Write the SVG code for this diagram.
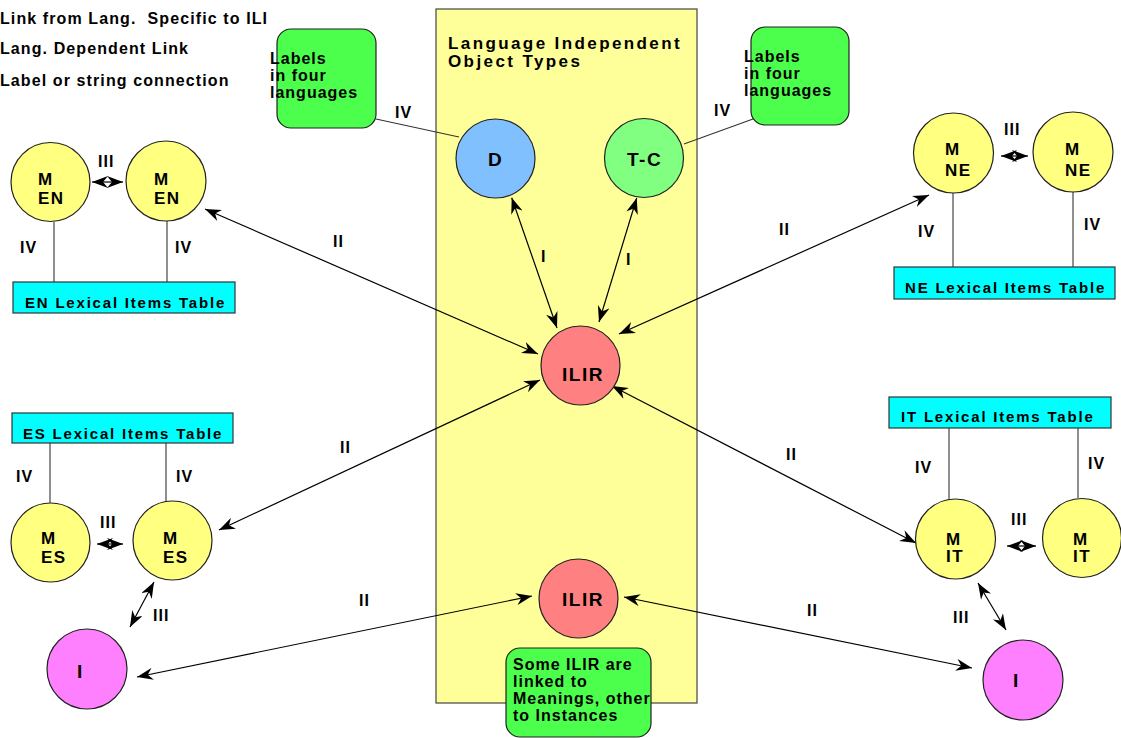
<svg xmlns="http://www.w3.org/2000/svg" width="1121" height="738" viewBox="0 0 1121 738">
<style>
text{font-family:"Liberation Sans",Arial,sans-serif;font-weight:bold;fill:#000}
.leg{font-size:16px;letter-spacing:1.1px}
.ttl{font-size:17px;letter-spacing:2.4px}
.lbl{font-size:16px;letter-spacing:1px}
.tbl{font-size:15px;letter-spacing:1.8px}
.gt{font-size:16px;letter-spacing:1px}
.node{font-size:19px;letter-spacing:1.5px}
.m{font-size:17px;letter-spacing:1.5px}
.circ{stroke:#222;stroke-width:1.2}
.yel{fill:#ffff80}
.tb{fill:#00ffff;stroke:#333;stroke-width:1.2}
.gb{fill:#4cff4c;stroke:#222;stroke-width:1.2}
.arr{stroke:#000;stroke-width:1.2;fill:none;marker-start:url(#ah);marker-end:url(#ah)}
.thin{stroke:#333;stroke-width:1.1;fill:none}
</style>
<defs>
<marker id="ah" viewBox="0 0 16 12" refX="16" refY="6" markerWidth="16" markerHeight="12" markerUnits="userSpaceOnUse" orient="auto-start-reverse">
<path d="M0,0 L16,6 L0,12 L5,6 z" fill="#000"/>
</marker>
</defs>
<rect width="1121" height="738" fill="#fff"/>
<g id="legend">
<text class="leg" x="0" y="24" xml:space="preserve">Link from Lang.  Specific to ILI</text>
<text class="leg" x="0" y="54">Lang. Dependent Link</text>
<text class="leg" x="0" y="86">Label or string connection</text>
</g>
<g id="ili-region">
<rect x="436" y="9" width="261" height="694" fill="#ffff99" stroke="#444" stroke-width="1.2"/>
<text class="ttl" x="448" y="49">Language Independent</text>
<text class="ttl" x="448" y="67">Object Types</text>
</g>
<g id="connectors">
<line class="thin" x1="376" y1="119" x2="459" y2="137"/>
<line class="thin" x1="684" y1="144" x2="753" y2="119"/>
<line class="arr" x1="511.7" y1="197.7" x2="557" y2="328"/>
<line class="arr" x1="636.7" y1="198" x2="599" y2="322"/>
<line class="arr" x1="205" y1="209" x2="538" y2="354"/>
<line class="arr" x1="219" y1="530" x2="540" y2="380"/>
<line class="arr" x1="929" y1="195" x2="619" y2="334"/>
<line class="arr" x1="916" y1="543" x2="612" y2="386"/>
<line class="arr" x1="137" y1="677" x2="532" y2="596"/>
<line class="arr" x1="624" y1="597" x2="972" y2="668"/>
<line class="arr" x1="154" y1="582" x2="130" y2="627"/>
<line class="arr" x1="978" y1="583" x2="1006" y2="630"/>
<line class="arr" x1="92" y1="182" x2="123" y2="182"/>
<line class="arr" x1="97" y1="544" x2="123" y2="544"/>
<line class="arr" x1="1001" y1="156" x2="1028" y2="156"/>
<line class="arr" x1="1007" y1="546" x2="1036" y2="546"/>
<line class="thin" x1="54" y1="222" x2="54" y2="282"/>
<line class="thin" x1="167" y1="221" x2="167" y2="282"/>
<line class="thin" x1="953" y1="193" x2="953" y2="267"/>
<line class="thin" x1="1073" y1="192" x2="1073" y2="267"/>
<line class="thin" x1="50" y1="443" x2="50" y2="503"/>
<line class="thin" x1="166" y1="443" x2="166" y2="501"/>
<line class="thin" x1="949" y1="428" x2="949" y2="499"/>
<line class="thin" x1="1078" y1="428" x2="1078" y2="498"/>
<text class="lbl" x="395" y="118">IV</text>
<text class="lbl" x="714" y="116">IV</text>
<text class="lbl" x="541" y="262">I</text>
<text class="lbl" x="626" y="265">I</text>
<text class="lbl" x="333" y="247">II</text>
<text class="lbl" x="340" y="453">II</text>
<text class="lbl" x="779" y="235">II</text>
<text class="lbl" x="786" y="460">II</text>
<text class="lbl" x="359" y="606">II</text>
<text class="lbl" x="807" y="616">II</text>
<text class="lbl" x="153" y="621">III</text>
<text class="lbl" x="953" y="623">III</text>
<text class="lbl" x="98" y="167">III</text>
<text class="lbl" x="100" y="528">III</text>
<text class="lbl" x="1004" y="135">III</text>
<text class="lbl" x="1011" y="525">III</text>
<text class="lbl" x="20" y="253">IV</text>
<text class="lbl" x="175" y="253">IV</text>
<text class="lbl" x="918" y="237">IV</text>
<text class="lbl" x="1084" y="230">IV</text>
<text class="lbl" x="16" y="482">IV</text>
<text class="lbl" x="176" y="482">IV</text>
<text class="lbl" x="915" y="473">IV</text>
<text class="lbl" x="1088" y="469">IV</text>
</g>
<g id="labels-left">
<rect class="gb" x="277" y="29" width="99" height="99" rx="14"/>
<text class="gt" x="270" y="64">Labels</text>
<text class="gt" x="270" y="81">in four</text>
<text class="gt" x="270" y="98">languages</text>
</g>
<g id="labels-right">
<rect class="gb" x="751" y="27" width="98" height="98" rx="14"/>
<text class="gt" x="744" y="62">Labels</text>
<text class="gt" x="744" y="79">in four</text>
<text class="gt" x="744" y="96">languages</text>
</g>
<g id="D">
<circle class="circ" cx="495.5" cy="158.5" r="39.5" fill="#80c0ff"/>
<text class="node" x="488" y="166">D</text>
</g>
<g id="T-C">
<circle class="circ" cx="644" cy="158" r="39.5" fill="#80ff80"/>
<text class="node" x="627" y="166">T-C</text>
</g>
<g id="ILIR-1">
<circle class="circ" cx="580.5" cy="365.5" r="39.5" fill="#ff8080"/>
<text class="node" x="562" y="381">ILIR</text>
</g>
<g id="ILIR-2">
<circle class="circ" cx="578.5" cy="598.5" r="39.5" fill="#ff8080"/>
<text class="node" x="562" y="606">ILIR</text>
</g>
<g id="note-ilir">
<rect class="gb" x="506" y="648" width="145" height="89" rx="14"/>
<text class="gt" x="513" y="670">Some ILIR are</text>
<text class="gt" x="513" y="687">linked to</text>
<text class="gt" x="513" y="704">Meanings, other</text>
<text class="gt" x="513" y="721">to Instances</text>
</g>
<g id="M-EN-1">
<circle class="circ yel" cx="50.5" cy="182" r="39.5"/>
<text class="m" x="38" y="185">M</text>
<text class="m" x="38" y="204">EN</text>
</g>
<g id="M-EN-2">
<circle class="circ yel" cx="166" cy="181" r="40"/>
<text class="m" x="154" y="185">M</text>
<text class="m" x="154" y="204">EN</text>
</g>
<g id="EN-table">
<rect class="tb" x="13" y="282" width="222" height="31"/>
<text class="tbl" x="25" y="308">EN Lexical Items Table</text>
</g>
<g id="M-NE-1">
<circle class="circ yel" cx="953.5" cy="153" r="40"/>
<text class="m" x="945" y="155">M</text>
<text class="m" x="945" y="176">NE</text>
</g>
<g id="M-NE-2">
<circle class="circ yel" cx="1073" cy="152" r="40"/>
<text class="m" x="1065" y="155">M</text>
<text class="m" x="1065" y="176">NE</text>
</g>
<g id="NE-table">
<rect class="tb" x="894" y="267" width="221" height="32"/>
<text class="tbl" x="905" y="293">NE Lexical Items Table</text>
</g>
<g id="ES-table">
<rect class="tb" x="12" y="413" width="221" height="30"/>
<text class="tbl" x="23" y="439">ES Lexical Items Table</text>
</g>
<g id="M-ES-1">
<circle class="circ yel" cx="50.5" cy="542.5" r="39.5"/>
<text class="m" x="41" y="544">M</text>
<text class="m" x="41" y="563">ES</text>
</g>
<g id="M-ES-2">
<circle class="circ yel" cx="172.5" cy="540.5" r="39.5"/>
<text class="m" x="163" y="544">M</text>
<text class="m" x="163" y="563">ES</text>
</g>
<g id="I-left">
<circle class="circ" cx="87" cy="669" r="40" fill="#ff80ff"/>
<text class="node" x="77" y="678">I</text>
</g>
<g id="IT-table">
<rect class="tb" x="889" y="397" width="222" height="31"/>
<text class="tbl" x="901" y="422">IT Lexical Items Table</text>
</g>
<g id="M-IT-1">
<circle class="circ yel" cx="955.5" cy="539" r="40"/>
<text class="m" x="946" y="545">M</text>
<text class="m" x="946" y="562">IT</text>
</g>
<g id="M-IT-2">
<circle class="circ yel" cx="1082" cy="538" r="39.5"/>
<text class="m" x="1073" y="545">M</text>
<text class="m" x="1073" y="562">IT</text>
</g>
<g id="I-right">
<circle class="circ" cx="1023" cy="680" r="40" fill="#ff80ff"/>
<text class="node" x="1013" y="687">I</text>
</g>
</svg>
